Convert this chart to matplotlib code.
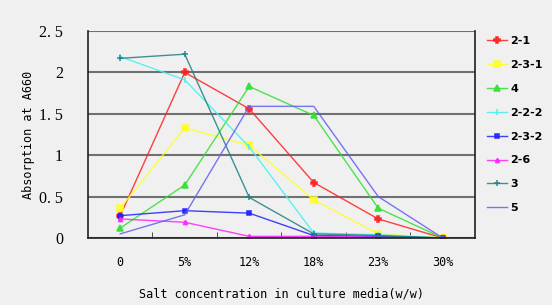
import numpy as np
import matplotlib.pyplot as plt

# categories on the x axis
salt = ["0", "5%", "12%", "18%", "23%", "30%"]

# absorption values, one list per strain
s2_1 = [0.27, 2.00, 1.56, 0.67, 0.23, 0.00]
s2_3_1 = [0.36, 1.33, 1.12, 0.46, 0.05, 0.00]
s4 = [0.12, 0.64, 1.83, 1.48, 0.36, 0.00]
s2_2_2 = [2.19, 1.91, 1.10, 0.06, 0.04, 0.00]
s2_3_2 = [0.27, 0.33, 0.30, 0.03, 0.02, 0.00]
s2_6 = [0.23, 0.19, 0.02, 0.02, 0.01, 0.00]
s3 = [2.17, 2.22, 0.49, 0.05, 0.03, 0.00]
s5 = [0.05, 0.28, 1.59, 1.59, 0.50, 0.00]

names = ["2-1", "2-3-1", "4", "2-2-2", "2-3-2", "2-6", "3", "5"]
series = [s2_1, s2_3_1, s4, s2_2_2, s2_3_2, s2_6, s3, s5]
colors = ["#ff2020", "#ffff20", "#30e030", "#40f0f0", "#2020ff", "#ff20ff", "#208080", "#6060f0"]
markers = ["P", "s", "^", "|", "s", "^", "+", None]
msizes = [4, 4, 5, 5, 3, 3, 5, 0]

bg = "#f0f0f0"
fig = plt.figure(figsize=(5.52, 3.05), dpi=100, facecolor=bg)
ax = fig.add_axes([88 / 552, 1 - 238 / 305, (475 - 88) / 552, (238 - 31) / 305])
ax.set_facecolor(bg)

x = np.arange(len(salt))
for name, vals, c, m, ms in zip(names, series, colors, markers, msizes):
    ax.plot(x, vals, color=c, lw=1, marker=m, ms=ms, mew=1.2, label=name, alpha=0.85)

ax.set_xlim(-0.5, len(salt) - 0.5)
ax.set_ylim(0, 2.5)
ax.set_yticks([0, 0.5, 1, 1.5, 2, 2.5])
ax.set_yticklabels(["0", "0. 5", "1", "1. 5", "2", "2. 5"],
                   family="Liberation Serif", fontsize=11.5)
ax.set_xticks(x)
ax.set_xticklabels(salt, family="DejaVu Sans Mono", fontsize=8.5)
ax.set_xticks(np.arange(0.5, len(salt) - 1, 1), minor=True)
ax.tick_params(axis="x", which="major", length=0, pad=13)
ax.tick_params(axis="x", which="minor", length=4, direction="in", color="#303030")
ax.tick_params(axis="y", length=0, pad=18)
ax.yaxis.grid(True, color="#707070", lw=1.5)
ax.set_axisbelow(True)
for side in ["left", "bottom", "right"]:
    ax.spines[side].set_color("#202020")
    ax.spines[side].set_linewidth(1.2)
ax.spines["top"].set_visible(False)

ax.set_xlabel("Salt concentration in culture media(w/w)", family="DejaVu Sans Mono",
              fontsize=8.5, labelpad=13.5)
ax.set_ylabel("Absorption at A660", family="DejaVu Sans Mono", fontsize=8.5, labelpad=3)

leg = fig.legend(loc="upper left", bbox_to_anchor=(487 / 552, 1 - 36 / 305), frameon=False,
                 prop={"family": "DejaVu Sans", "size": 8, "weight": "bold"},
                 handlelength=1.8, handletextpad=0.3, labelspacing=1.25,
                 borderaxespad=0, borderpad=0)

plt.savefig("out.png", dpi=100, facecolor=bg)
